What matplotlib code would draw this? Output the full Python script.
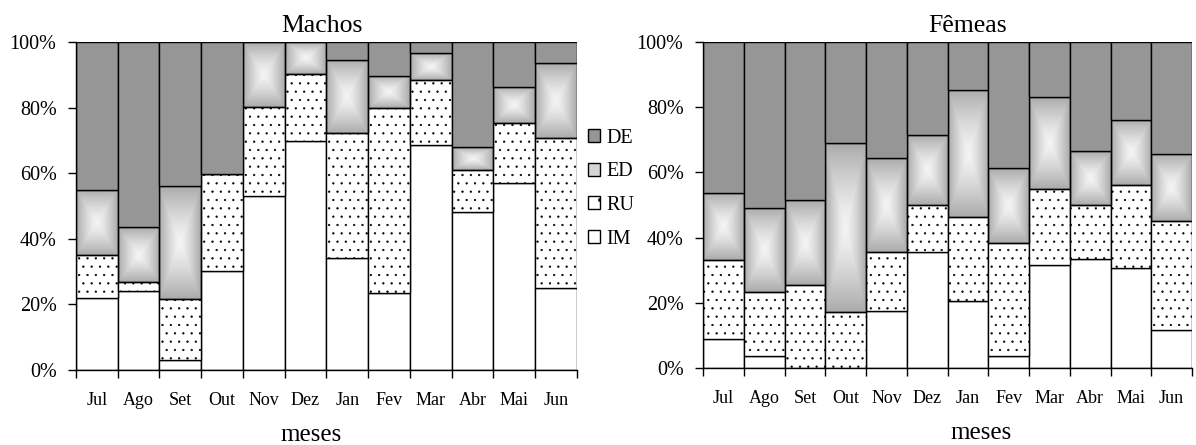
import numpy as np
import matplotlib
matplotlib.use("Agg")
import matplotlib.pyplot as plt
from matplotlib.patches import Patch
from matplotlib.colors import LinearSegmentedColormap

months = ["Jul", "Ago", "Set", "Out", "Nov", "Dez",
          "Jan", "Fev", "Mar", "Abr", "Mai", "Jun"]

# percentages per stage (IM, RU, ED, DE)
machos_im = [22.1, 24.2, 3.2, 30.1, 53.2, 69.8, 34.3, 23.5, 68.7, 48.3, 57.1, 25.1]
machos_ru = [12.9, 2.7, 18.5, 29.8, 27.0, 20.3, 38.0, 56.3, 19.8, 12.8, 18.1, 45.7]
machos_ed = [19.9, 16.7, 34.4, 0.0, 19.8, 9.9, 22.3, 9.9, 8.0, 6.8, 11.2, 22.7]
machos_de = [45.1, 56.4, 43.9, 40.1, 0.0, 0.0, 5.4, 10.3, 3.5, 32.1, 13.6, 6.5]

femeas_im = [8.9, 3.6, 0.0, 0.0, 17.6, 35.5, 20.7, 3.6, 31.7, 33.5, 30.6, 11.6]
femeas_ru = [24.1, 19.6, 25.6, 17.2, 18.0, 14.5, 25.6, 34.8, 23.2, 16.5, 25.6, 33.5]
femeas_ed = [20.8, 26.0, 25.9, 51.8, 28.8, 21.5, 39.0, 22.9, 28.1, 16.5, 20.0, 20.6]
femeas_de = [46.2, 50.8, 48.5, 31.0, 35.6, 28.5, 14.7, 38.7, 17.0, 33.5, 23.8, 34.3]

DE_COLOR = "#969696"
grad_cmap = LinearSegmentedColormap.from_list("ed", ["#f4f4f4", "#acacac"])

plt.rcParams["font.family"] = ["Liberation Serif", "DejaVu Serif"]
plt.rcParams["hatch.linewidth"] = 0.4
plt.rcParams["hatch.color"] = "#333333"


def gradient():
    g = np.linspace(-1, 1, 60)
    xx, yy = np.meshgrid(g, g)
    return np.maximum(np.abs(xx), np.abs(yy)) ** 1.3


def draw_panel(ax, im, ru, ed, de, title, title_x, label_x):
    x = np.arange(len(months))
    im = np.array(im)
    ru = np.array(ru)
    ed = np.array(ed)
    de = np.array(de)
    kw = dict(width=1.0, align="edge", edgecolor="black", linewidth=1.0)
    ax.bar(x, im, facecolor="white", zorder=2, **kw)
    ax.bar(x, ru, bottom=im, facecolor="white", hatch="..", zorder=2, **kw)
    b_ed = im + ru
    for xi, b, h in zip(x, b_ed, ed):
        if h > 0:
            ax.imshow(gradient(), cmap=grad_cmap, extent=[xi, xi + 1, b, b + h],
                      aspect="auto", zorder=1, interpolation="bilinear")
    ax.bar(x, ed, bottom=b_ed, facecolor="none", zorder=2, **kw)
    ax.bar(x, de, bottom=b_ed + ed, facecolor=DE_COLOR, zorder=2, **kw)

    ax.set_xlim(0, len(months))
    ax.set_ylim(0, 100)
    ax.set_aspect("auto")
    ax.set_yticks(np.arange(0, 101, 20))
    ax.set_yticklabels([f"{v}%" for v in range(0, 101, 20)], fontsize=14.5)
    ax.set_xticks(np.arange(0, len(months) + 1))
    ax.set_xticklabels([])
    ax.set_xticks(x + 0.5, minor=True)
    ax.set_xticklabels(months, minor=True, fontsize=13)
    ax.tick_params(axis="x", which="major", length=6, width=1, direction="out")
    ax.tick_params(axis="x", which="minor", length=0, pad=16)
    ax.tick_params(axis="y", length=6, width=1, pad=8)
    for s in ["top", "right"]:
        ax.spines[s].set_visible(False)
    for s in ["left", "bottom"]:
        ax.spines[s].set_linewidth(1.0)
    ax.set_title(title, fontsize=18.5, x=title_x, pad=7)
    ax.set_xlabel("meses", fontsize=18)
    ax.xaxis.set_label_coords(label_x, -0.165)


fig = plt.figure(figsize=(11.96, 4.45), dpi=100)
ax1 = fig.add_axes([0.0635, 0.1685, 0.4189, 0.7371])
ax2 = fig.add_axes([0.5878, 0.173, 0.4089, 0.7326])

draw_panel(ax1, machos_im, machos_ru, machos_ed, machos_de, "Machos", 0.491, 0.469)
draw_panel(ax2, femeas_im, femeas_ru, femeas_ed, femeas_de, "Fêmeas", 0.542, 0.569)

handles = [
    Patch(facecolor=DE_COLOR, edgecolor="black", label="DE"),
    Patch(facecolor="#d6d6d6", edgecolor="black", label="ED"),
    Patch(facecolor="white", edgecolor="black", hatch=".", label="RU"),
    Patch(facecolor="white", edgecolor="black", label="IM"),
]
fig.legend(handles=handles, loc="upper left", bbox_to_anchor=(588 / 1196, 1 - 129 / 445),
           frameon=False, fontsize=14.5, handlelength=0.62, handleheight=0.62,
           handletextpad=0.3, labelspacing=0.72, borderpad=0, borderaxespad=0)

fig.savefig("out.png", dpi=100)
